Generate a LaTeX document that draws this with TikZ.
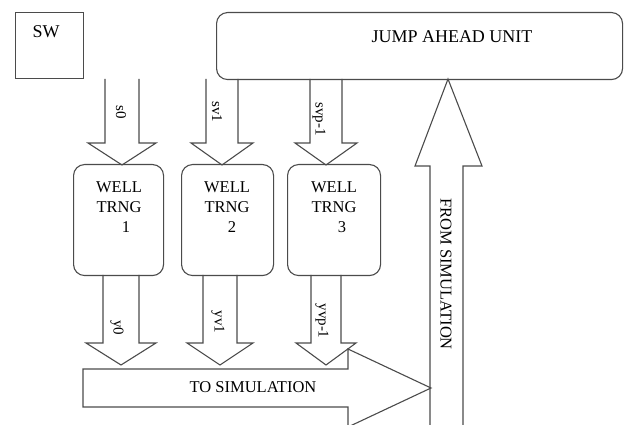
\documentclass[tikz,border=0pt]{standalone}
\usepackage{fontspec}
\setmainfont{Liberation Serif}
\tikzset{
  edge/.style={draw={rgb,255:red,75;green,75;blue,75}, line width=1.1pt, line join=miter},
  plainbox/.style={edge, rectangle, inner sep=0pt},
  roundbox/.style={edge, rectangle, rounded corners=11pt, inner sep=0pt},
  txt/.style={font=\fontsize{16.5}{20}\selectfont, inner sep=0pt},
  title/.style={font=\fontsize{18}{20}\selectfont, inner sep=0pt},
  tag/.style={font=\fontsize{15}{18}\selectfont, inner sep=0pt, rotate=-90},
}
% block arrow pointing down: axis x, shaft top, head base, tip, shaft half width, head half width
\newcommand{\fatdown}[6]{%
  \draw[edge] (#1-#5,#2) -- (#1-#5,#3) -- (#1-#6,#3) -- (#1,#4)
    -- (#1+#6,#3) -- (#1+#5,#3) -- (#1+#5,#2);}
\begin{document}
\begin{tikzpicture}[x=1pt,y=-1pt]
\useasboundingbox (0,0) rectangle (633,425);
\clip (0,0) rectangle (633,425);

% control blocks
\node[plainbox, anchor=north west, minimum width=68pt, minimum height=66pt] (sw) at (15,12) {};
\node[title] (swtext) at (46,32) {SW};
\node[roundbox, anchor=north west, minimum width=406pt, minimum height=67pt] (jump) at (216,12) {};
\node[title] (jumptext) at (452,37) {JUMP AHEAD UNIT};

% generator blocks
\node[roundbox, anchor=north west, minimum width=90pt, minimum height=111pt] (w1) at (73,164) {};
\node[roundbox, anchor=north west, minimum width=92pt, minimum height=111pt] (w2) at (181,164) {};
\node[roundbox, anchor=north west, minimum width=93pt, minimum height=111pt] (w3) at (287,164) {};
\node[txt, align=center] (w1text) at (119,207) {WELL\\TRNG\\\hspace*{14pt}1};
\node[txt, align=center] (w2text) at (227,207) {WELL\\TRNG\\\hspace*{10pt}2};
\node[txt, align=center] (w3text) at (334,207) {WELL\\TRNG\\\hspace*{16pt}3};

% seeds from the jump-ahead unit
\fatdown{122}{79}{143}{165}{17}{34}
\fatdown{222}{79}{143}{165}{16}{31}
\fatdown{326}{79}{143}{165}{16}{31}
\node[tag] (s0) at (121,112) {s0};
\node[tag] (s1) at (217,112) {sv1};
\node[tag] (s2) at (319,119) {svp-1};

% outputs of the generators
\fatdown{121}{275}{343}{365}{18}{35}
\fatdown{220}{275}{343}{365}{17}{33}
\fatdown{326}{275}{343}{365}{15}{30}
\node[tag] (y0) at (117,328) {y0};
\node[tag] (y1) at (218,322) {yv1};
\node[tag] (y2) at (322,321) {yvp-1};

% to the simulation
\draw[edge] (83,369) -- (348,369) -- (348,349) -- (431,388) -- (348,427)
  -- (348,407) -- (83,407) -- cycle;
\node[txt] (tosim) at (253,387) {TO SIMULATION};

% back from the simulation
\draw[edge] (430,430) -- (430,166) -- (415,166) -- (448,79) -- (482,166)
  -- (463,166) -- (463,430);
\node[txt, rotate=-90] (fromsim) at (446,274) {FROM SIMULATION};
\end{tikzpicture}
\end{document}
